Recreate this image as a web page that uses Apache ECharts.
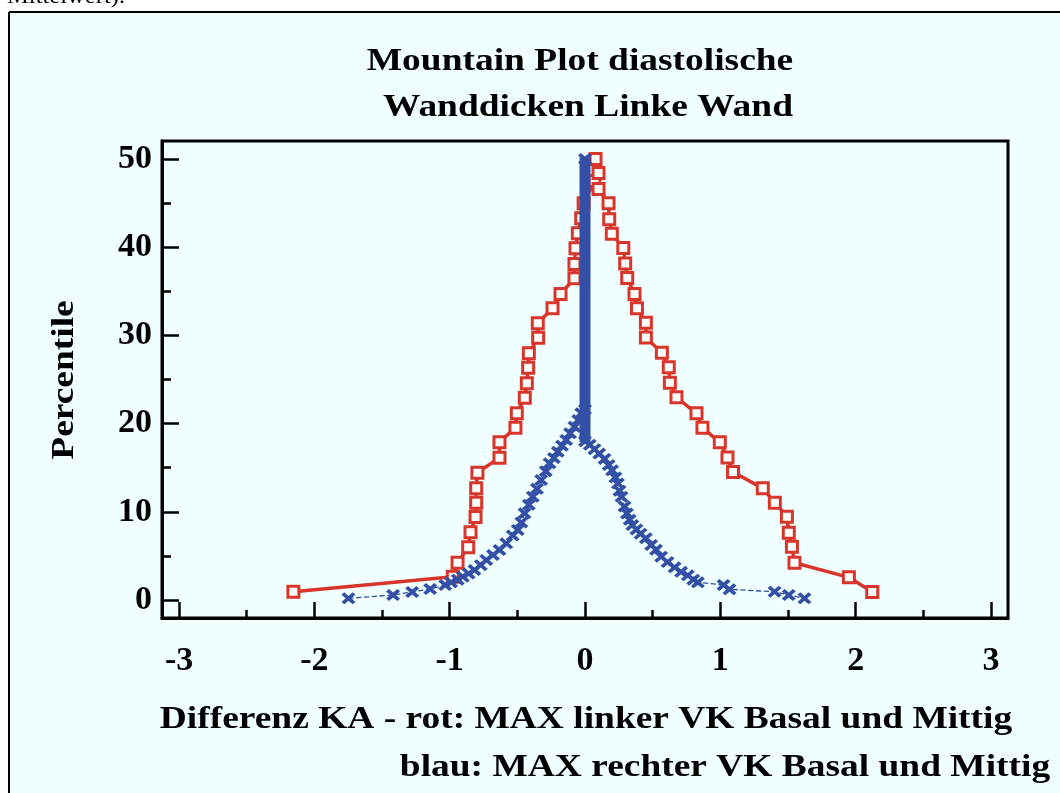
<!DOCTYPE html>
<html>
<head>
<meta charset="utf-8">
<script src="https://cdn.jsdelivr.net/npm/echarts@6.0.0/dist/echarts.min.js"></script>
<style>
  html, body { margin: 0; padding: 0; background: #fff; }
  #chart { width: 1060px; height: 793px; }
</style>
</head>
<body>
<div id="chart"></div>
<script>
// red: MAX linker VK (Basal und Mittig)
const redX = [-2.155, -0.977, -0.942, -0.863, -0.846, -0.809, -0.804, -0.804, -0.795, -0.632, -0.632,
  -0.514, -0.504, -0.445, -0.430, -0.420, -0.415, -0.346, -0.349, -0.240, -0.181, -0.078, -0.078,
  -0.070, -0.053, -0.028, -0.010, 0.070, 0.078,
  0.100, 0.100, 0.174, 0.179, 0.198, 0.283, 0.297, 0.312, 0.366, 0.384, 0.450, 0.450, 0.568, 0.619,
  0.627, 0.676, 0.824, 0.868, 0.996, 1.053, 1.094, 1.314, 1.403, 1.492, 1.506, 1.529, 1.548, 1.950, 2.123];
const redY = [0.94, 2.64, 4.23, 5.97, 7.67, 9.41, 11.03, 12.66, 14.43, 16.14, 17.88,
  19.54, 21.17, 22.94, 24.57, 26.34, 27.97, 29.74, 31.37, 33.07, 34.69, 36.47, 38.10,
  39.87, 41.57, 43.27, 44.97, 47.5, 50.0,
  48.4, 46.6, 44.97, 43.16, 41.53, 39.9, 38.15, 36.5, 34.7, 33.07, 31.44, 29.76, 28.04, 26.38,
  24.64, 22.98, 21.17, 19.54, 17.88, 16.16, 14.51, 12.66, 11.03, 9.44, 7.63, 6.04, 4.23, 2.57, 0.91];

// blau: MAX rechter VK (Basal und Mittig)
const blueX = [-1.748, -1.418, -1.277, -1.144, -1.033, -0.989, -0.94, -0.903, -0.86, -0.817, -0.77,
  -0.730, -0.68, -0.632, -0.582, -0.534, -0.497, -0.47, -0.447, -0.415, -0.386, -0.355, -0.324,
  -0.29, -0.262, -0.230, -0.201, -0.17, -0.139, -0.11, -0.078, -0.05, -0.028, 0, 0,
  0, 0.035, 0.07, 0.105, 0.144, 0.175, 0.2, 0.225, 0.243, 0.255, 0.27, 0.292, 0.31, 0.33, 0.35,
  0.38, 0.41, 0.45, 0.489, 0.525, 0.563, 0.61, 0.662, 0.71, 0.76, 0.80, 0.834, 1.024, 1.068,
  1.401, 1.506, 1.622];
const blueY = [0.19, 0.57, 0.91, 1.25, 1.70, 2.0, 2.3, 2.64, 3.0, 3.4, 3.95,
  4.54, 5.1, 5.67, 6.43, 7.3, 7.94, 8.8, 9.83, 10.8, 11.71, 12.6, 13.6,
  14.6, 15.5, 16.1, 16.81, 17.5, 18.14, 18.9, 19.65, 20.4, 21.17, 21.6, 50.0,
  18.0, 17.6, 17.1, 16.6, 16.0, 15.3, 14.7, 13.9, 13.2, 12.4, 11.7, 10.6, 9.8, 9.1, 8.5,
  8.0, 7.5, 7.0, 6.24, 5.7, 4.91, 4.3, 3.7, 3.2, 2.8, 2.3, 2.0, 1.70, 1.21,
  0.94, 0.57, 0.19];
// the many zero differences stack up into a solid column at 0
const blueStackX = [0, 0];
const blueStackY = [17.9, 50.2];

const xTickValues = [-3, -2, -1, 0, 1, 2, 3];
const xMinorValues = [-2.5, -1.5, -0.5, 0.5, 1.5, 2.5];
const yTickValues = [0, 10, 20, 30, 40, 50];
const yMinorValues = [5, 15, 25, 35, 45];

const RED = '#D9352A';
const BLUE = '#3350A6';
const SERIF = '"Liberation Serif", "Times New Roman", serif';
const X_MARK = 'path://M0,2L2,0L5,3L8,0L10,2L7,5L10,8L8,10L5,7L2,10L0,8L3,5Z';

const pairs = (xs, ys) => xs.map((x, i) => [x, ys[i]]);

const chart = echarts.init(document.getElementById('chart'));

const labelStyle = { fontSize: 34, fontWeight: 'bold', fontFamily: SERIF, color: '#000' };
const tickStyle = { color: '#000', width: 2.5 };

function textEl(text, x, y, opts) {
  return Object.assign({
    type: 'text', x, y, scaleX: 1.17, z: 10,
    style: { text, font: 'bold 32px ' + SERIF, fill: '#000', align: 'center', verticalAlign: 'middle' },
  }, opts || {});
}

chart.setOption({
  animation: false,
  backgroundColor: '#F0FFFF',
  grid: { left: 162, right: 52, top: 141, bottom: 175, show: true, borderColor: '#000', borderWidth: 3 },
  xAxis: [
    {
      type: 'value', position: 'bottom', min: -3.126, max: 3.126,
      axisLine: { onZero: false, lineStyle: { color: '#000', width: 3 } },
      axisTick: { inside: true, length: 16, customValues: xTickValues, lineStyle: tickStyle },
      axisLabel: Object.assign({ customValues: xTickValues, margin: 26 }, labelStyle),
      splitLine: { show: false },
    },
    {
      type: 'value', position: 'bottom', min: -3.126, max: 3.126,
      axisLine: { show: false, onZero: false },
      axisTick: { inside: true, length: 8, customValues: xMinorValues, lineStyle: tickStyle },
      axisLabel: { show: false },
      splitLine: { show: false },
    },
  ],
  yAxis: [
    {
      type: 'value', position: 'left', min: -2.04, max: 52.04,
      axisLine: { show: true, onZero: false, lineStyle: { color: '#000', width: 3 } },
      axisTick: { show: true, inside: true, length: 17, customValues: yTickValues, lineStyle: tickStyle },
      axisLabel: Object.assign({ customValues: yTickValues, margin: 10 }, labelStyle),
      splitLine: { show: false },
    },
    {
      type: 'value', position: 'left', min: -2.04, max: 52.04,
      axisLine: { show: false, onZero: false },
      axisTick: { show: true, inside: true, length: 9, customValues: yMinorValues, lineStyle: tickStyle },
      axisLabel: { show: false },
      splitLine: { show: false },
    },
  ],
  graphic: [
    { type: 'rect', shape: { x: 0, y: 0, width: 1060, height: 11 }, style: { fill: '#fff' }, z: 1 },
    { type: 'rect', shape: { x: 0, y: 0, width: 8, height: 793 }, style: { fill: '#fff' }, z: 1 },
    {
      type: 'text', x: 7, y: 8, scaleX: 1.17, z: 3,
      style: { text: 'Mittelwert).', font: '21px ' + SERIF, fill: '#000', align: 'left', verticalAlign: 'bottom' },
    },
    { type: 'line', shape: { x1: 9, y1: 12, x2: 1060, y2: 12 }, style: { stroke: '#000', lineWidth: 2 }, z: 4 },
    { type: 'line', shape: { x1: 9, y1: 12, x2: 9, y2: 793 }, style: { stroke: '#000', lineWidth: 2 }, z: 4 },
    textEl('Mountain Plot diastolische', 580, 62),
    textEl('Wanddicken Linke Wand', 588, 108),
    textEl('Percentile', 65, 380, { rotation: Math.PI / 2 }),
    textEl('Differenz KA - rot: MAX linker VK Basal und Mittig', 586, 720),
    textEl('blau: MAX rechter VK Basal und Mittig', 725, 768),
  ],
  series: [
    {
      type: 'line', name: 'rot', xAxisIndex: 0, yAxisIndex: 0,
      data: pairs(redX, redY),
      symbol: 'rect', symbolSize: 11,
      lineStyle: { color: RED, width: 3.5 },
      itemStyle: { color: '#fff', borderColor: RED, borderWidth: 3 },
      z: 2,
    },
    {
      type: 'line', name: 'blau Nullwerte', xAxisIndex: 0, yAxisIndex: 0,
      data: pairs(blueStackX, blueStackY),
      symbol: 'none',
      lineStyle: { color: BLUE, width: 11, cap: 'butt' },
      z: 3,
    },
    {
      type: 'line', name: 'blau', xAxisIndex: 0, yAxisIndex: 0,
      data: pairs(blueX, blueY),
      symbol: X_MARK, symbolSize: [14, 12],
      lineStyle: { color: BLUE, width: 1.3, type: 'dashed' },
      itemStyle: { color: BLUE },
      z: 4,
    },
  ],
});

window.addEventListener('resize', () => chart.resize());
</script>
</body>
</html>
